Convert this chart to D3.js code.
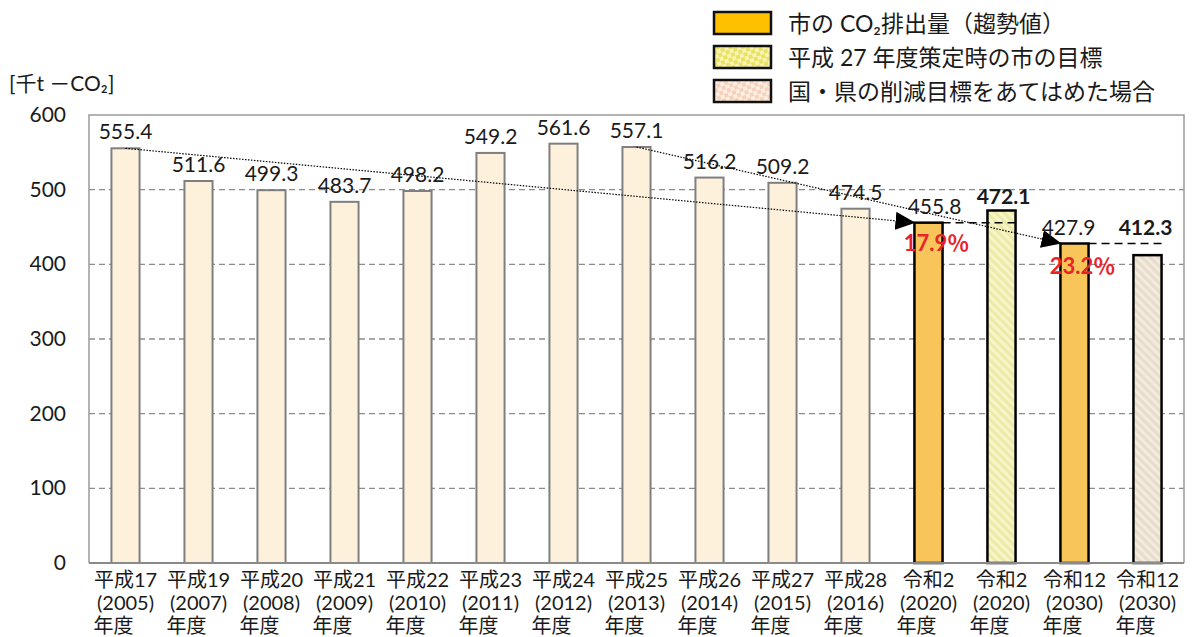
<!DOCTYPE html>
<html><head><meta charset="utf-8">
<script src="https://cdn.jsdelivr.net/npm/d3@7"></script>
<style>
html,body{margin:0;padding:0;background:#fff;}
svg text{font-family:"Lato","Noto Sans CJK JP",sans-serif;fill:#1a1a1a;}
</style></head>
<body>
<svg id="c" width="1192" height="637"></svg>
<script>
const categoriesLine1 = ["平成17","平成19","平成20","平成21","平成22","平成23","平成24","平成25","平成26","平成27","平成28","令和2","令和2","令和12","令和12"];
const categoriesLine2 = ["(2005)","(2007)","(2008)","(2009)","(2010)","(2011)","(2012)","(2013)","(2014)","(2015)","(2016)","(2020)","(2020)","(2030)","(2030)"];
const categoriesLine3 = ["年度","年度","年度","年度","年度","年度","年度","年度","年度","年度","年度","年度","年度","年度","年度"];
const values = [555.4,511.6,499.3,483.7,498.2,549.2,561.6,557.1,516.2,509.2,474.5,455.8,472.1,427.9,412.3];
const kinds = ["hist","hist","hist","hist","hist","hist","hist","hist","hist","hist","hist","trend","target27","trend","national"];
const boldLabels = [false,false,false,false,false,false,false,false,false,false,false,false,true,false,true];
const yTicks = [0,100,200,300,400,500,600];
const legendLabels = ["市の CO₂排出量（趨勢値）","平成 27 年度策定時の市の目標","国・県の削減目標をあてはめた場合"];
const reductionLabels = ["17.9％","23.2％"];
// arrows: [fromIndex, toIndex]
const arrows = [[0,11],[7,13]];

const svg = d3.select("#c");
const L=89, R=1184, T=115, B=563;
const x = d3.scaleBand().domain(d3.range(values.length)).range([L,R]).paddingInner(0.615).paddingOuter(0.3075);
const y = d3.scaleLinear().domain([0,600]).range([B,T]);

const defs = svg.append("defs");
function stripe(id, base, line){
  const p = defs.append("pattern").attr("id",id).attr("patternUnits","userSpaceOnUse")
    .attr("width",6).attr("height",6).attr("patternTransform","rotate(-45)");
  p.append("rect").attr("width",6).attr("height",6).attr("fill",base);
  p.append("rect").attr("width",3).attr("height",6).attr("fill",line);
}
function checker(id, a, b){
  const p = defs.append("pattern").attr("id",id).attr("patternUnits","userSpaceOnUse")
    .attr("width",8).attr("height",8).attr("patternTransform","rotate(-20)");
  p.append("rect").attr("width",8).attr("height",8).attr("fill",b);
  p.append("rect").attr("width",4).attr("height",4).attr("fill",a);
  p.append("rect").attr("x",4).attr("y",4).attr("width",4).attr("height",4).attr("fill",a);
}
stripe("hatchY","#F7F5C8","#ECEAA8");
stripe("hatchB","#F3EBDF","#E8DCCB");
checker("chkY","#E9E264","#F8F4B4");
checker("chkP","#F6D2BA","#FDEEE4");
const mk = defs.append("marker").attr("id","arr").attr("viewBox","0 0 10 10").attr("refX",10).attr("refY",5)
  .attr("markerWidth",20).attr("markerHeight",18).attr("markerUnits","userSpaceOnUse").attr("orient","auto")
  .attr("preserveAspectRatio","none");
mk.append("path").attr("d","M0,0 L10,5 L0,10 Z").attr("fill","#000");

// gridlines
svg.append("g").selectAll("line").data(yTicks.filter(d=>d>0 && d<600)).join("line")
  .attr("x1",L).attr("x2",R).attr("y1",d=>y(d)).attr("y2",d=>y(d))
  .attr("stroke","#8c8c8c").attr("stroke-width",1.3).attr("stroke-dasharray","6,4");
// frame
svg.append("path").attr("d",`M${L},${B} V${T} H${R} V${B}`).attr("fill","none").attr("stroke","#9a9a9a").attr("stroke-width",1.5);

// y axis labels
svg.append("g").selectAll("text").data(yTicks).join("text")
  .attr("x",66).attr("y",d=>y(d)+7).attr("text-anchor","end").attr("font-size",21).text(d=>d);
svg.append("text").attr("x",9).attr("y",91).attr("font-size",21).text("[千t －CO₂]");

const fillOf = k => k==="hist" ? "#FEF1DC" : k==="trend" ? "#F8C55A" : k==="target27" ? "url(#hatchY)" : "url(#hatchB)";
svg.append("g").selectAll("rect").data(values).join("rect")
  .attr("x",(d,i)=>x(i)).attr("width",x.bandwidth())
  .attr("y",d=>y(d)).attr("height",d=>B-y(d))
  .attr("fill",(d,i)=>fillOf(kinds[i]))
  .attr("stroke",(d,i)=>kinds[i]==="hist"?"#7f7f7f":"#000")
  .attr("stroke-width",(d,i)=>kinds[i]==="hist"?2:2.5);

// x axis line
svg.append("line").attr("x1",L).attr("x2",R).attr("y1",B).attr("y2",B).attr("stroke","#8a8a8a").attr("stroke-width",2);

// dashed reference lines
svg.append("line").attr("x1",x(11)+x.bandwidth()).attr("x2",x(12)+x.bandwidth()+4).attr("y1",y(values[11])).attr("y2",y(values[11]))
  .attr("stroke","#000").attr("stroke-width",1.5).attr("stroke-dasharray","8,5");
svg.append("line").attr("x1",x(13)+x.bandwidth()).attr("x2",x(14)+x.bandwidth()+4).attr("y1",y(values[13])).attr("y2",y(values[13]))
  .attr("stroke","#000").attr("stroke-width",1.5).attr("stroke-dasharray","8,5");

// dotted arrows
svg.append("g").selectAll("line").data(arrows).join("line")
  .attr("x1",d=>x(d[0])+x.bandwidth()/2).attr("y1",d=>y(values[d[0]]))
  .attr("x2",d=>x(d[1])+1).attr("y2",d=>y(values[d[1]]))
  .attr("stroke","#000").attr("stroke-width",1.2).attr("stroke-dasharray","1.5,1.5")
  .attr("marker-end","url(#arr)");

// value labels
const dx = [0,0,0,0,0,0,0,0,0,0,0,6,2,-6,-2];
const dy = [-9,-9,-9,-9,-9,-9,-9,-9,-9,-9,-9,-9,-6,-9,-20];
svg.append("g").selectAll("text").data(values).join("text")
  .attr("x",(d,i)=>x(i)+x.bandwidth()/2+dx[i]).attr("y",(d,i)=>y(d)+dy[i])
  .attr("text-anchor","middle").attr("font-size",21)
  .attr("font-weight",(d,i)=>boldLabels[i]?"bold":"normal")
  .text(d=>d.toFixed(1));

// reduction labels
svg.append("text").attr("x",x(11)+x.bandwidth()/2+8).attr("y",y(values[11])+28).attr("text-anchor","middle")
  .attr("font-size",22).attr("font-weight","bold").style("fill","#E8232A").text(reductionLabels[0]);
svg.append("text").attr("x",x(13)+x.bandwidth()/2+8).attr("y",y(values[13])+30).attr("text-anchor","middle")
  .attr("font-size",22).attr("font-weight","bold").style("fill","#E8232A").text(reductionLabels[1]);

// x labels
const xl = svg.append("g");
[categoriesLine1,categoriesLine2,categoriesLine3].forEach((arr,li)=>{
  xl.selectAll("text.l"+li).data(arr).join("text").attr("class","l"+li)
    .attr("x",(d,i)=>x(i)+x.bandwidth()/2 + (li===2?-12:0)).attr("y",587+li*23)
    .attr("text-anchor","middle").attr("font-size",20).text(d=>d);
});

// legend
const lg = svg.append("g");
const lfills = ["#FFC000","url(#chkY)","url(#chkP)"];
legendLabels.forEach((t,i)=>{
  lg.append("rect").attr("x",714).attr("y",12+i*34).attr("width",57).attr("height",22)
    .attr("fill",lfills[i]).attr("stroke","#111").attr("stroke-width",2.5);
  lg.append("text").attr("x",788).attr("y",32+i*34).attr("font-size",23).text(t);
});
</script>
</body></html>
